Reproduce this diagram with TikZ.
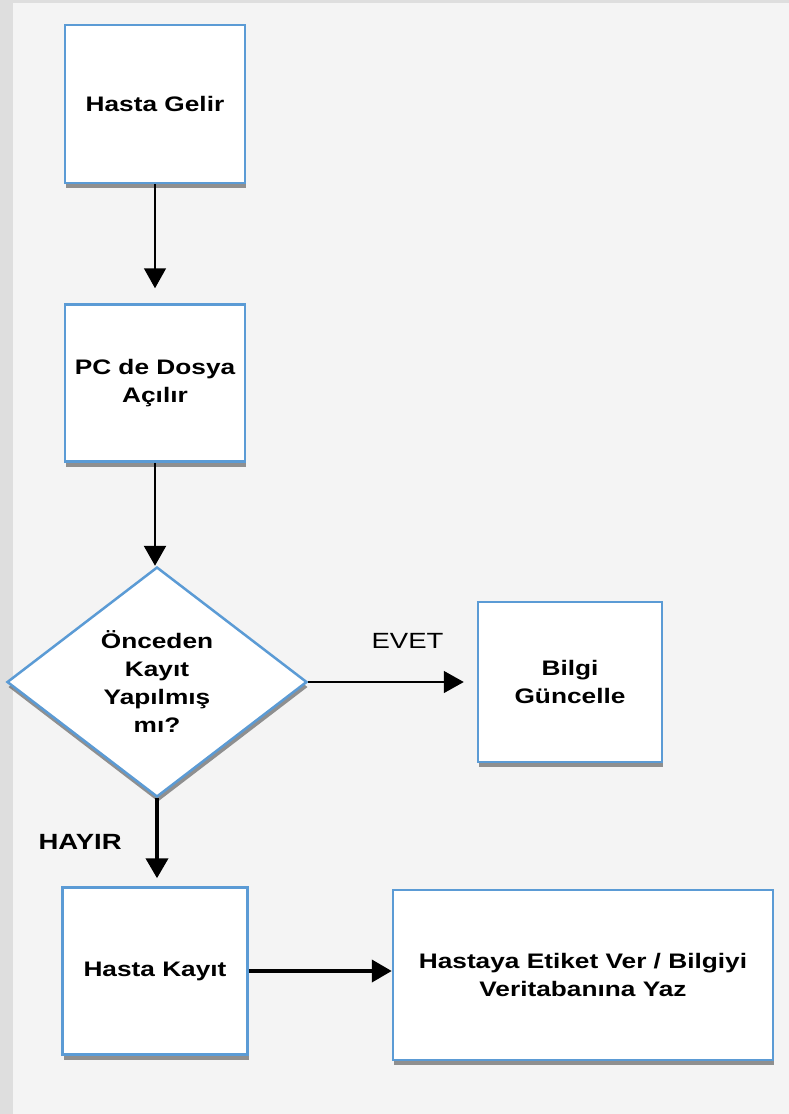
\documentclass[tikz,border=0pt]{standalone}
\usepackage{fontspec}
\setmainfont{Liberation Sans}[FakeStretch=1.25]
\usetikzlibrary{arrows.meta,shadows}
\usetikzlibrary{shapes.geometric}

\definecolor{kenar}{RGB}{91,155,213}
\definecolor{zemin}{RGB}{244,244,244}
\definecolor{serit}{RGB}{222,222,222}

\tikzset{
  kutu/.style={draw=kenar, line width=2.5pt, fill=white, align=center,
    inner sep=0pt, font=\fontsize{21}{28}\selectfont\bfseries,
    drop shadow={shadow xshift=1pt, shadow yshift=-5pt, opacity=0.6, fill=black!70}},
  karar/.style={kutu, diamond, minimum width=300pt, minimum height=230pt},
  ok/.style={-{Triangle[length=20pt,width=22pt]}, line width=1.5pt},
  kalinok/.style={ok, line width=4pt},
  etiket/.style={font=\fontsize{22}{26}\selectfont}
}

\begin{document}
\begin{tikzpicture}[x=1pt,y=-1pt]
\useasboundingbox (0,0) rectangle (789,1114);
\fill[zemin] (0,0) rectangle (789,1114);
\fill[serit] (0,0) rectangle (13,1114);
\fill[serit] (0,0) rectangle (789,3);

\node[kutu, minimum width=180pt, minimum height=158pt] (gelir) at (155,104) {Hasta Gelir};
\node[kutu, minimum width=180pt, minimum height=157pt] (dosya) at (155,383) {PC de Dosya\\Açılır};
\node[karar] (kayitvar) at (157,682) {Önceden\\Kayıt\\Yapılmış\\mı?};
\node[kutu, minimum width=184pt, minimum height=160pt] (guncelle) at (570,682) {Bilgi\\Güncelle};
\node[kutu, minimum width=185pt, minimum height=167pt] (kayit) at (155,971) {Hasta Kayıt};
\node[kutu, minimum width=380pt, minimum height=170pt] (yaz) at (583,975) {Hastaya Etiket Ver / Bilgiyi\\Veritabanına Yaz};

\draw[ok, shorten >=15pt] (gelir) -- (dosya);
\draw[ok, line width=2.5pt] (dosya.south) -- (dosya.south |- kayitvar.north);
\draw[ok, shorten >=13pt] (kayitvar.east) -- (guncelle.west) node[etiket, midway, above=29pt, xshift=15pt] (evet) {EVET};
\draw[kalinok, shorten >=8pt] (kayitvar.south) -- (kayitvar.south |- kayit.north) node[etiket, font=\fontsize{22}{26}\selectfont\bfseries, pos=0.5, left=30pt] (hayir) {HAYIR};
\draw[kalinok] (kayit.east) -- (yaz.west |- kayit.east);
\end{tikzpicture}
\end{document}
